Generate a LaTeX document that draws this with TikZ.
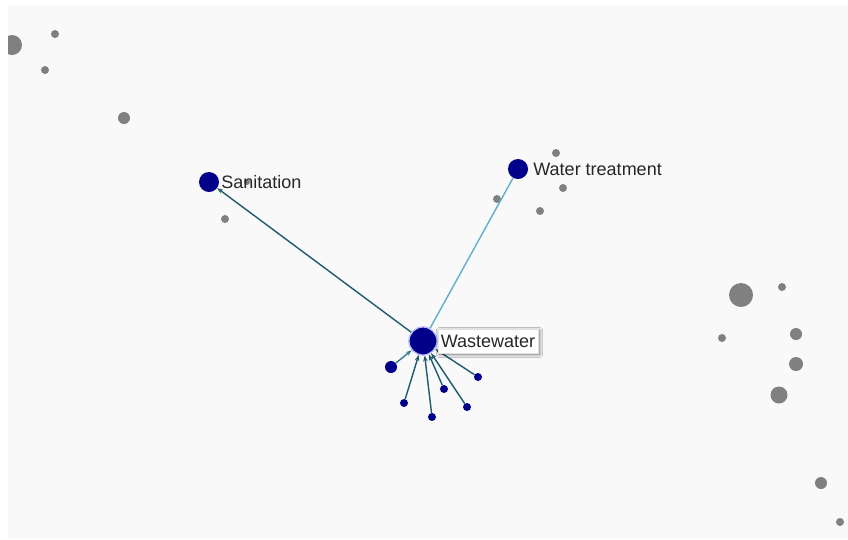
\documentclass[tikz,border=0pt]{standalone}
\usepackage{fontspec}
\setmainfont{Liberation Sans}
\usetikzlibrary{arrows.meta, positioning, shadows.blur}
\definecolor{panelbg}{HTML}{F9F9F9}
\definecolor{hubblue}{HTML}{00008B}
\definecolor{dotgray}{HTML}{808080}
\definecolor{edgedark}{HTML}{1F5A6E}
\definecolor{edgelight}{HTML}{62AECB}
\tikzset{
  hub/.style={
    circle, fill=hubblue, draw=white!75!blue, line width=1.2pt,
    minimum size=28pt, inner sep=0pt
  },
  topic/.style={
    circle, fill=hubblue, minimum size=20pt, inner sep=0pt
  },
  leaf/.style={
    circle, fill=hubblue, minimum size=#1, inner sep=0pt
  },
  dot/.style={
    circle, fill=dotgray, minimum size=#1, inner sep=0pt
  },
  tag/.style={
    font=\fontsize{18}{21}\selectfont, text=black!85, inner sep=1pt
  },
  tagbox/.style={
    rectangle, fill=white, draw=black!12, line width=0.4pt,
    font=\fontsize{18}{21}\selectfont, text=black!85,
    inner xsep=3pt, minimum height=24pt,
    blur shadow={shadow xshift=1.5pt,shadow yshift=-1.5pt,shadow blur radius=3pt,shadow blur steps=8,shadow opacity=55}
  },
  link/.style={
    -{Stealth[length=6pt,width=4.5pt]}, line width=1.4pt, color=edgedark
  }
}

\begin{document}
\begin{tikzpicture}[x=1pt, y=-1pt]
      % Canvas
      \fill[white] (0,0) rectangle (848,539);
      \fill[panelbg] (8,6) rectangle (848,539);
      \useasboundingbox (0,0) rectangle (848,539);

      % Background dots
      \begin{scope}
        \clip (8,6) rectangle (848,539);
        \node[dot=20pt] (g1) at (12,45) {};
        \node[dot=8pt] (g2) at (55,34) {};
        \node[dot=8pt] (g3) at (45,70) {};
        \node[dot=12pt] (g4) at (124,118) {};
        \node[dot=8pt] (g5) at (225,219) {};
        \node[dot=6pt] (g6) at (247,182) {};
        \node[dot=8pt] (g7) at (556,153) {};
        \node[dot=8pt] (g8) at (563,188) {};
        \node[dot=8pt] (g9) at (497,199) {};
        \node[dot=8pt] (g10) at (540,211) {};
        \node[dot=24pt] (g11) at (741,295) {};
        \node[dot=8pt] (g12) at (782,287) {};
        \node[dot=8pt] (g13) at (722,338) {};
        \node[dot=12pt] (g14) at (796,334) {};
        \node[dot=14pt] (g15) at (796,364) {};
        \node[dot=17pt] (g16) at (779,395) {};
        \node[dot=12pt] (g17) at (821,483) {};
        \node[dot=8pt] (g18) at (840,522) {};
      \end{scope}

      % Main nodes
      \node[hub] (ww) at (423,341) {};
      \node[topic] (san) at (209,182) {};
      \node[topic] (wt) at (518,169) {};

      % Small nodes round the hub
      \node[leaf=12pt] (s1) at (391,367) {};
      \node[leaf=8pt] (s2) at (404,403) {};
      \node[leaf=8pt] (s3) at (432,417) {};
      \node[leaf=8pt] (s4) at (444,389) {};
      \node[leaf=8pt] (s5) at (467,407) {};
      \node[leaf=8pt] (s6) at (478,377) {};

      % Edges
      \draw[link] (ww) -- (san);
      \draw[line width=1.4pt, edgelight] (ww) -- (wt);
      \draw[link, color=edgedark!60!edgelight] (s1) -- (ww);
      \draw[link] (s2) -- (ww);
      \draw[link] (s3) -- (ww);
      \draw[link] (s4) -- (ww);
      \draw[link] (s5) -- (ww);
      \draw[link] (s6) -- (ww);

      % redraw hub on top of edge ends
      \node[hub] at (ww) {};

      % Labels
      \node[tag, right=1pt of san] (sanlbl) {Sanitation};
      \node[tag, right=4pt of wt] (wtlbl) {Water treatment};
      \node[tagbox, right=0pt of ww] (wwlbl) {Wastewater};
\end{tikzpicture}
\end{document}
